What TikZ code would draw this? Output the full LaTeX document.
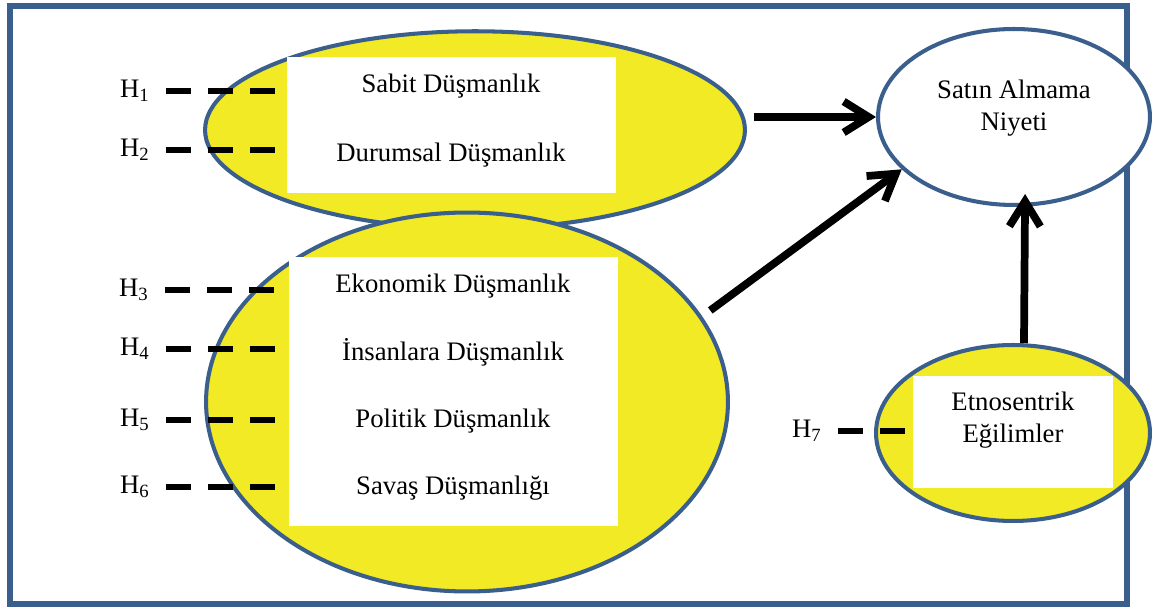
\documentclass[tikz,border=0pt]{standalone}
\usepackage{fontspec}
\setmainfont{Liberation Serif}
\usetikzlibrary{arrows.meta,positioning,shapes.geometric}
\definecolor{frameblue}{RGB}{59,95,140}
\definecolor{hostyellow}{RGB}{242,234,36}

\begin{document}
\begin{tikzpicture}[x=0.02cm, y=-0.02cm,
    font=\fontsize{15.2}{18}\selectfont,
    host/.style={ellipse, draw=frameblue, line width=2.3pt, fill=hostyellow, inner sep=0pt},
    target/.style={ellipse, draw=frameblue, line width=2.3pt, fill=white, inner sep=0pt, align=center},
    cell/.style={fill=white, draw=white, line width=0.6pt, inner sep=0pt, minimum width=6.56cm,
        minimum height=1.32cm, text height=0.38cm, text depth=0.30cm},
    hyp/.style={line width=3.2pt, dash pattern=on 0.5cm off 0.34cm, shorten <=0.32cm, shorten >=0.2cm},
    arr/.style={line width=4.4pt, -{Straight Barb[length=0.5cm, width=0.62cm]}},
    hlab/.style={anchor=east, inner sep=0pt}]
    \useasboundingbox (0,0) rectangle (1153,607);
    \draw[frameblue, line width=3.4pt] (10,6) rectangle (1127,604);

    % hostility groups
    \node[host, minimum width=10.8cm, minimum height=3.95cm] (hostA) at (475,130) {};
    \node[host, minimum width=10.44cm, minimum height=7.58cm] (hostB) at (467,402) {};
    \node[cell, minimum height=1.34cm] (sabit) at (451,91) {Sabit Düşmanlık};
    \node[cell, minimum height=1.34cm, below=0pt of sabit] (durum) {Durumsal Düşmanlık};
    \node[cell] (ekon) at (453,291) {Ekonomik Düşmanlık};
    \node[cell, below=0pt of ekon] (insan) {İnsanlara Düşmanlık};
    \node[cell, below=0pt of insan] (polit) {Politik Düşmanlık};
    \node[cell, below=0pt of polit] (savas) {Savaş Düşmanlığı};

    % outcome and ethnocentrism
    \node[target, minimum width=5.44cm, minimum height=3.52cm, text depth=0.47cm] (niyet) at (1014,117) {Satın Almama\\Niyeti};
    \node[host, minimum width=5.48cm, minimum height=3.52cm] (ethno) at (1013,433) {};
    \node[fill=white, inner sep=0pt, minimum width=4cm, minimum height=2.24cm, align=center,
        text depth=0.6cm] (ethbox) at (1013,432) {Etnosentrik\\Eğilimler};

    % hypotheses
    \node[hlab] (h1) at (150,91) {H\textsubscript{1}};
    \node[hlab] (h2) at (150,150) {H\textsubscript{2}};
    \node[hlab] (h3) at (149,290) {H\textsubscript{3}};
    \node[hlab] (h4) at (150,349) {H\textsubscript{4}};
    \node[hlab] (h5) at (150,420) {H\textsubscript{5}};
    \node[hlab] (h6) at (150,487) {H\textsubscript{6}};
    \node[hlab] (h7) at (822,431) {H\textsubscript{7}};
    \draw[hyp] (h1.east) -- (h1.east -| sabit.west);
    \draw[hyp] (h2.east) -- (h2.east -| durum.west);
    \draw[hyp] (h3.east) -- (h3.east -| ekon.west);
    \draw[hyp] (h4.east) -- (h4.east -| insan.west);
    \draw[hyp] (h5.east) -- (h5.east -| polit.west);
    \draw[hyp] (h6.east) -- (h6.east -| savas.west);
    \draw[hyp, shorten >=0.14cm] (h7.east) -- (h7.east -| ethbox.west);

    % paths
    \draw[arr, shorten <=0.14cm] (hostA.east |- niyet.west) -- (niyet.west);
    \draw[arr, shorten <=0.2cm] (hostB.20) -- (niyet.205);
    \draw[arr, shorten >=-0.26cm] ([xshift=0.22cm]ethno.north) -- ([xshift=0.22cm]niyet.south);
\end{tikzpicture}
\end{document}
